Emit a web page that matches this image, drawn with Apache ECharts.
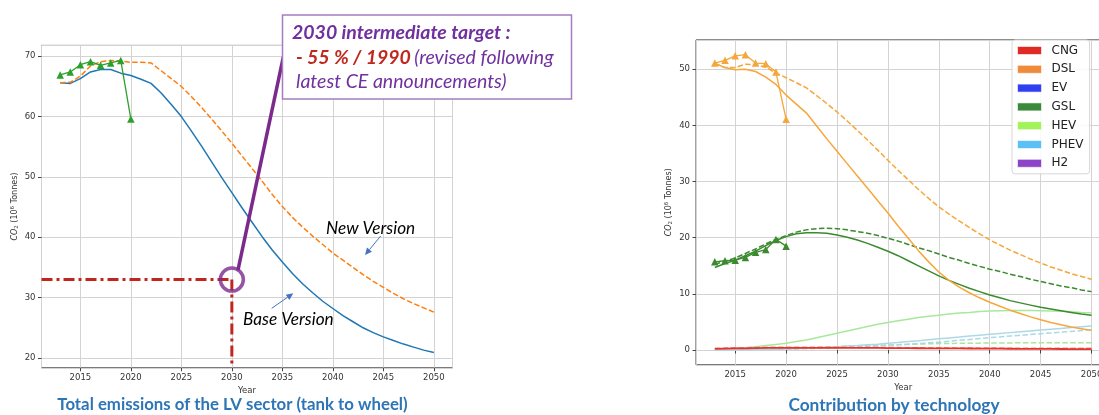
<!DOCTYPE html>
<html><head><meta charset="utf-8">
<script src="https://cdn.jsdelivr.net/npm/echarts@6/dist/echarts.min.js"></script>
<style>html,body{margin:0;padding:0;background:#fff;overflow:hidden}#c{width:1116px;height:415px}</style>
</head><body><div id="c"></div>
<script>
// ---------- DATA ----------
const years = [2013,2014,2015,2016,2017,2018,2019,2020,2021,2022,2023,2024,2025,2026,2027,2028,2029,2030,2031,2032,2033,2034,2035,2036,2037,2038,2039,2040,2041,2042,2043,2044,2045,2046,2047,2048,2049,2050];
const histYears = [2013,2014,2015,2016,2017,2018,2019,2020];

// Left chart: total emissions (10^6 t CO2)
const baseVersion = [65.6,65.5,66.3,67.4,67.8,67.8,67.2,66.8,66.2,65.5,63.9,62.0,60.0,57.6,55.1,52.5,49.9,47.4,44.9,42.5,40.1,37.9,35.9,34.0,32.3,30.8,29.4,28.2,27.0,26.0,25.0,24.2,23.5,22.9,22.3,21.8,21.3,20.9];
const newVersion  = [65.6,65.7,66.7,68.4,69.1,69.3,69.2,69.0,69.0,68.9,67.6,66.3,65.0,63.3,61.5,59.6,57.6,55.6,53.5,51.4,49.3,47.1,45.1,43.3,41.7,40.2,38.8,37.4,36.2,35.0,33.8,32.7,31.7,30.7,29.8,29.0,28.3,27.6];
const historical  = [66.9,67.4,68.6,69.1,68.5,68.9,69.3,59.6];

// 2030 target annotation (data units)
const targetYear = 2030;
const targetValue = 33;
const targetFloor = 19;
const connectorFrom = [2030.6, 34.5];
const connectorTo = [2035.1, 69.9];

// Right chart: contribution by technology
const dslBase = [51.1,50.3,49.9,50.0,49.6,48.6,47.3,45.4,43.8,42.2,39.9,37.6,35.4,33.2,31.0,28.8,26.6,24.4,22.1,19.9,17.7,15.7,13.9,12.4,11.2,10.2,9.3,8.5,7.8,7.1,6.5,5.9,5.4,4.9,4.5,4.1,3.8,3.5];
const dslNew  = [51.0,50.3,50.3,50.9,50.8,50.4,49.3,48.5,47.6,46.7,45.3,43.9,42.4,40.8,39.1,37.4,35.6,33.8,32.0,30.3,28.6,27.0,25.5,24.2,23.0,21.8,20.7,19.6,18.7,17.8,17.0,16.2,15.5,14.8,14.2,13.6,13.1,12.6];
const dslHist = [51.1,51.6,52.4,52.6,51.1,51.0,49.5,41.1];
const gslBase = [14.7,15.4,16.0,16.8,17.6,18.6,19.5,20.2,20.7,20.9,20.9,20.8,20.5,20.1,19.6,19.0,18.3,17.6,16.8,15.9,15.0,14.1,13.2,12.4,11.7,11.0,10.4,9.8,9.3,8.8,8.4,8.0,7.6,7.3,7.0,6.7,6.4,6.2];
const gslNew  = [15.3,15.8,16.4,17.2,18.0,18.9,19.7,20.4,21.0,21.4,21.6,21.7,21.6,21.4,21.1,20.8,20.4,19.9,19.4,18.8,18.2,17.7,17.1,16.5,16.0,15.4,14.9,14.4,14.0,13.5,13.1,12.6,12.2,11.8,11.4,11.1,10.7,10.4];
const gslHist = [15.7,15.9,16.0,16.5,17.4,17.9,19.7,18.5];
const hevBase = [0.1,0.2,0.3,0.4,0.6,0.8,1.0,1.2,1.5,1.8,2.2,2.6,3.0,3.4,3.8,4.2,4.6,4.9,5.2,5.5,5.8,6.0,6.2,6.4,6.6,6.7,6.85,6.95,7.0,7.05,7.05,7.05,7.0,6.95,6.9,6.8,6.7,6.65];
const hevNew  = [0.05,0.08,0.1,0.13,0.17,0.2,0.25,0.3,0.35,0.4,0.47,0.53,0.6,0.66,0.72,0.78,0.84,0.9,0.95,1.0,1.05,1.1,1.15,1.17,1.19,1.21,1.23,1.25,1.26,1.27,1.28,1.29,1.3,1.3,1.3,1.3,1.3,1.3];
const phevBase = [0.0,0.0,0.05,0.05,0.1,0.1,0.15,0.2,0.25,0.35,0.4,0.5,0.6,0.7,0.8,0.95,1.05,1.2,1.35,1.5,1.65,1.85,2.0,2.15,2.3,2.5,2.65,2.8,2.95,3.1,3.25,3.4,3.55,3.7,3.85,4.0,4.15,4.3];
const phevNew  = [0.0,0.0,0.0,0.05,0.05,0.1,0.1,0.15,0.2,0.25,0.3,0.35,0.4,0.48,0.56,0.64,0.72,0.8,0.92,1.04,1.16,1.28,1.4,1.56,1.72,1.88,2.04,2.2,2.34,2.48,2.62,2.76,2.9,3.04,3.18,3.32,3.46,3.6];
const cngBase = [0.2,0.25,0.3,0.3,0.35,0.4,0.4,0.4,0.4,0.4,0.4,0.4,0.4,0.4,0.4,0.38,0.37,0.35,0.34,0.33,0.32,0.31,0.3,0.29,0.28,0.27,0.26,0.25,0.24,0.23,0.22,0.21,0.2,0.19,0.18,0.17,0.16,0.15];
const cngNew  = [0.3,0.35,0.4,0.42,0.45,0.48,0.5,0.5,0.5,0.5,0.5,0.5,0.5,0.48,0.47,0.46,0.45,0.44,0.43,0.42,0.41,0.4,0.39,0.38,0.37,0.36,0.35,0.34,0.34,0.33,0.33,0.32,0.32,0.31,0.31,0.3,0.3,0.3];
const evValues = [];
const h2Values = [];

const legendNames = ['CNG','DSL','EV','GSL','HEV','PHEV','H2'];

// ---------- STYLE ----------
const C = {
  blue:'#1f77b4', orange:'#ff7f0e', green:'#2ca02c',
  dsl:'#F6A73B', gsl:'#3B8A2F', hev:'#A8E89C', phev:'#ADD8E6', cng:'#E8322A',
  purple:'#7B2A8C', red:'#C0261E', title:'#2E75B6'
};
const legendColors = {CNG:'#E02A25', DSL:'#F08A3C', EV:'#3040F0', GSL:'#3A8A3A', HEV:'#A2F25A', PHEV:'#5BC0F5', H2:'#8E44C8'};
const FONT = 'DejaVu Sans';
const pairs = (xs, ys) => ys.map((v, i) => [xs[i], v]);
const X_MIN = 2011.15, X_MAX = 2051.85;
const DASH = [5.5, 2.4];
const plain = v => String(Math.round(v * 100) / 100);

function xAxis(gi) {
  return {
    type:'value', gridIndex:gi, min:X_MIN, max:X_MAX, splitNumber:8, minInterval:5, maxInterval:5,
    name:'Year', nameLocation:'middle', nameGap:15,
    nameTextStyle:{fontSize:8.5, color:'#333', fontFamily:FONT},
    axisLine:{show:false},
    axisTick:{show:true, length:3.5, lineStyle:{color:'#444'}},
    axisLabel:{fontSize:8.5, color:'#333', margin:5, fontFamily:FONT, showMinLabel:false, showMaxLabel:false, formatter:plain},
    splitLine:{show:true, lineStyle:{color:'#d3d3d3', width:1}}
  };
}
function yAxis(gi, min, max) {
  return {
    type:'value', gridIndex:gi, min:min, max:max, splitNumber:5, minInterval:10, maxInterval:10,
    name:'{it|CO}{sub|2} (10{sup|6} Tonnes)', nameLocation:'middle', nameGap:22,
    nameTextStyle:{fontSize:8, color:'#333', fontFamily:FONT,
      rich:{it:{fontStyle:'italic', fontSize:8, fontFamily:FONT, color:'#333'},
            sub:{fontSize:5.5, verticalAlign:'bottom', fontFamily:FONT, color:'#333', padding:[4,0,0,0]},
            sup:{fontSize:5.5, verticalAlign:'top', fontFamily:FONT, color:'#333', padding:[0,0,4,0]}}},
    axisLine:{show:false},
    axisTick:{show:true, length:3.5, lineStyle:{color:'#444'}},
    axisLabel:{fontSize:8.5, color:'#333', margin:6, fontFamily:FONT, showMinLabel:false, showMaxLabel:false, formatter:plain},
    splitLine:{show:true, lineStyle:{color:'#d3d3d3', width:1}}
  };
}
function line(name, gi, xs, ys, color, dashed, width, extra) {
  return Object.assign({
    name, type:'line', xAxisIndex:gi, yAxisIndex:gi, data:pairs(xs, ys),
    showSymbol:false, symbol:'none', smooth:false, animation:false,
    lineStyle:{color, width: width || 1.5, type: dashed ? DASH : 'solid'},
    itemStyle:{color}, emphasis:{disabled:true}, z:2
  }, extra || {});
}
function hist(name, gi, ys, color) {
  return {
    name, type:'line', xAxisIndex:gi, yAxisIndex:gi, data:pairs(histYears, ys),
    symbol:'triangle', symbolSize:7.5, showSymbol:true, animation:false,
    lineStyle:{color, width:1.3}, itemStyle:{color}, emphasis:{disabled:true}, z:3
  };
}
function arrow(x1, y1, x2, y2, color) {
  const dx = x2 - x1, dy = y2 - y1, L = Math.hypot(dx, dy), ux = dx / L, uy = dy / L;
  const hl = 7, hw = 3.2, bx = x2 - ux * hl, by = y2 - uy * hl;
  return [
    {type:'line', shape:{x1, y1, x2:bx, y2:by}, style:{stroke:color, lineWidth:1}, z:50},
    {type:'polygon', shape:{points:[[x2, y2], [bx - uy * hw, by + ux * hw], [bx + uy * hw, by - ux * hw]]}, style:{fill:color}, z:50}
  ];
}

const chart = echarts.init(document.getElementById('c'), null, {renderer:'canvas'});
const series = [
  line('Base Version', 0, years, baseVersion, C.blue, false),
  line('New Version', 0, years, newVersion, C.orange, true),
  hist('Historical', 0, historical, C.green),
  line('target-h', 0, [X_MIN, targetYear], [targetValue, targetValue], C.red, false, 3, {lineStyle:{color:C.red, width:3, type:[11,4,3,4]}, z:5}),
  line('target-v', 0, [targetYear, targetYear], [targetValue, targetFloor], C.red, false, 3, {lineStyle:{color:C.red, width:3, type:[11,4,3,4]}, z:5}),
  line('connector', 0, [connectorFrom[0], connectorTo[0]], [connectorFrom[1], connectorTo[1]], C.purple, false, 3.5, {z:7}),
  {name:'target', type:'scatter', xAxisIndex:0, yAxisIndex:0, data:[[targetYear, targetValue]], symbol:'circle', symbolSize:23,
   itemStyle:{color:'rgba(0,0,0,0)', borderColor:C.purple, borderWidth:3.5}, animation:false, z:8, emphasis:{disabled:true}},

  line('EV', 1, years, evValues, legendColors.EV, false),
  line('H2', 1, years, h2Values, legendColors.H2, false),
  line('HEV', 1, years, hevBase, C.hev, false),
  line('HEV new', 1, years, hevNew, C.hev, true),
  line('PHEV', 1, years, phevBase, C.phev, false),
  line('PHEV new', 1, years, phevNew, C.phev, true),
  line('GSL', 1, years, gslBase, C.gsl, false),
  line('GSL new', 1, years, gslNew, C.gsl, true),
  hist('GSL hist', 1, gslHist, C.gsl),
  line('DSL', 1, years, dslBase, C.dsl, false),
  line('DSL new', 1, years, dslNew, C.dsl, true),
  hist('DSL hist', 1, dslHist, C.dsl),
  line('CNG new', 1, years, cngNew, '#F08A85', true),
  line('CNG', 1, years, cngBase, C.cng, false, 1.8)
];

const graphic = [
  {type:'rect', shape:{x:282.5, y:15, width:289, height:84}, style:{fill:'#fff', stroke:'#A57CC0', lineWidth:1.5}, z:100},
  {type:'text', x:292, y:33, z:101, style:{text:'2030 intermediate target :', font:'italic bold 19.5px Lato', fill:'#7030A0', verticalAlign:'middle'}},
  {type:'text', x:296, y:58, z:101, style:{text:'{r|- 55 % / 1990} {p|(revised following}', verticalAlign:'middle',
    rich:{r:{fill:'#C0281E', fontStyle:'italic', fontWeight:'bold', fontSize:19.5, fontFamily:'Lato'},
          p:{fontStyle:'italic', fontSize:19.5, fontFamily:'Lato', fill:'#7030A0'}}}},
  {type:'text', x:296, y:82, z:101, style:{text:'latest CE announcements)', font:'italic 19.5px Lato', fill:'#7030A0', verticalAlign:'middle'}},
  {type:'text', x:326, y:228, z:60, style:{text:'New Version', font:'italic 17.2px Lato', fill:'#000', verticalAlign:'middle'}},
  {type:'text', x:243, y:319, z:60, style:{text:'Base Version', font:'italic 17.2px Lato', fill:'#000', verticalAlign:'middle'}},
  ...arrow(380.7, 236, 365, 255, '#4472C4'),
  ...arrow(271.7, 308.3, 293.3, 293.3, '#4472C4'),
  {type:'text', x:232.5, y:405, z:60, style:{text:'Total emissions of the LV sector (tank to wheel)', font:'bold 16.8px Lato', fill:C.title, align:'center', verticalAlign:'middle'}},
  {type:'text', x:894, y:405, z:60, style:{text:'Contribution by technology', font:'bold 17.3px Lato', fill:C.title, align:'center', verticalAlign:'middle'}}
];

chart.setOption({
  animation:false,
  backgroundColor:'#fff',
  grid:[
    {left:41.5, top:45.4, width:411, height:322.4, show:true, borderColor:'#444', borderWidth:1, containLabel:false},
    {left:696, top:39.9, width:414.4, height:324.9, show:true, borderColor:'#444', borderWidth:1, containLabel:false}
  ],
  xAxis:[xAxis(0), xAxis(1)],
  yAxis:[yAxis(0, 18.37, 71.8), yAxis(1, -2.63, 55.23)],
  legend:{
    left:1012, top:40, orient:'vertical', selectedMode:false,
    backgroundColor:'rgba(255,255,255,0.85)', borderColor:'#d8d8d8', borderWidth:1, borderRadius:3,
    padding:[4,6,4,5], itemWidth:24, itemHeight:8, itemGap:5.8, icon:'rect',
    textStyle:{fontSize:12, color:'#222', fontFamily:FONT, padding:[0,0,0,5], lineHeight:13},
    data: legendNames.map(n => ({name:n, icon:'rect', itemStyle:{color:legendColors[n], borderColor:'rgba(255,255,255,0.6)', borderWidth:1}}))
  },
  series,
  graphic
});
</script></body></html>
